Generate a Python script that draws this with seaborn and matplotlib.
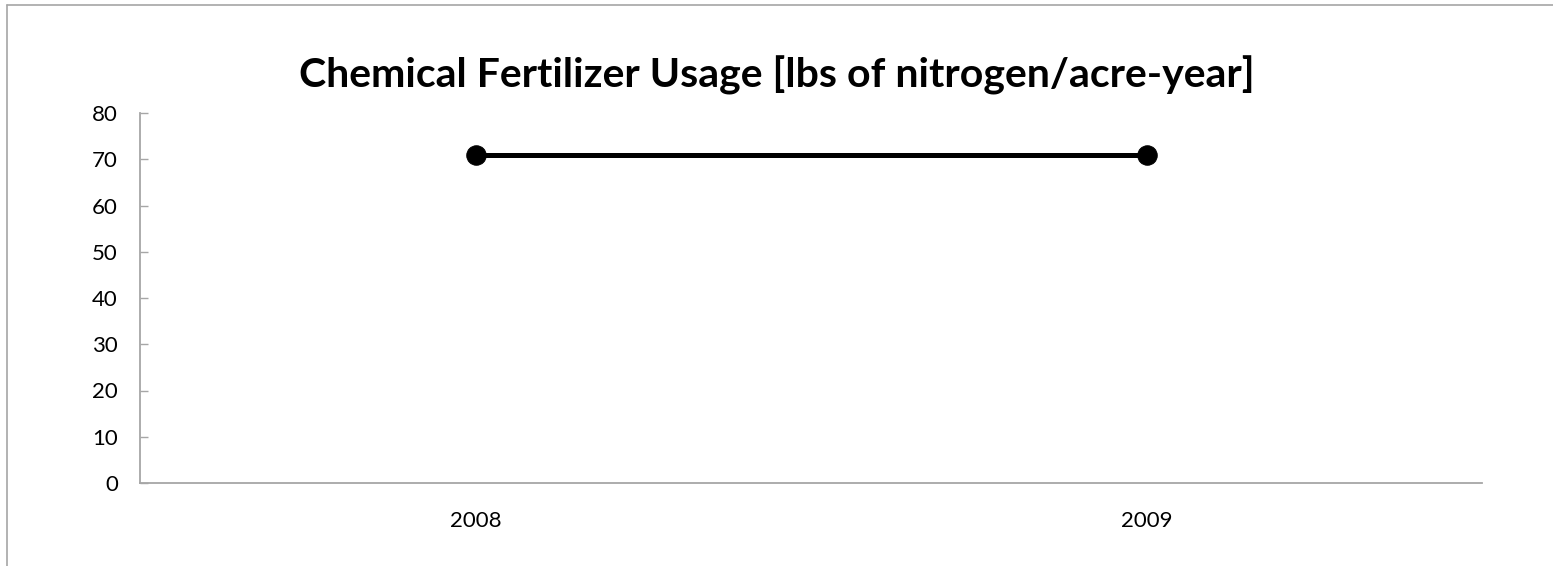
import matplotlib
matplotlib.use('Agg')
import matplotlib.pyplot as plt
import seaborn as sns
import pandas as pd
from matplotlib.lines import Line2D

years = ['2008', '2009']
usage = [71, 71]
y_ticks = [0, 10, 20, 30, 40, 50, 60, 70, 80]
title = 'Chemical Fertilizer Usage [lbs of nitrogen/acre-year]'

W, H = 1553, 566


def main():
    sns.set_style('white')
    plt.rcParams['font.family'] = ['Lato', 'DejaVu Sans']
    plt.rcParams['text.color'] = 'black'
    plt.rcParams['xtick.color'] = 'black'
    plt.rcParams['ytick.color'] = 'black'

    df = pd.DataFrame({'year': years, 'usage': usage})

    fig = plt.figure(figsize=(W / 100, H / 100), dpi=100)
    ax = fig.add_axes([140 / W, 1 - 483 / H, (1482 - 140) / W, (483 - 113) / H])

    sns.lineplot(data=df, x='year', y='usage', ax=ax, color='black',
                 linewidth=3.6, marker='o', markersize=14, markeredgecolor='black')

    ax.set_xlim(-0.5, len(years) - 0.5)
    ax.set_ylim(0, 80)
    ax.set_yticks(y_ticks)
    ax.set_xlabel('')
    ax.set_ylabel('')

    for side in ['top', 'right']:
        ax.spines[side].set_visible(False)
    for side in ['left', 'bottom']:
        ax.spines[side].set_color('#a6a6a6')
        ax.spines[side].set_linewidth(1.3)

    ax.tick_params(axis='y', direction='in', length=6, width=1, color='#a6a6a6',
                   left=True, labelsize=16, labelcolor='black', pad=16)
    ax.tick_params(axis='x', length=0, labelsize=16, labelcolor='black', pad=20)

    fig.text(0.5, 1 - 75 / H, title, ha='center', va='center',
             fontsize=29.5, fontweight='bold', color='black')

    # chart frame, only left and top edges are inside the picture
    fig.lines.append(Line2D([7 / W, 7 / W], [0, 1 - 5 / H], transform=fig.transFigure,
                            color='#a6a6a6', linewidth=1.2))
    fig.lines.append(Line2D([7 / W, 1], [1 - 5 / H, 1 - 5 / H], transform=fig.transFigure,
                            color='#a6a6a6', linewidth=1.2))

    fig.savefig('out.png', dpi=100)
    plt.close(fig)


if __name__ == '__main__':
    main()
